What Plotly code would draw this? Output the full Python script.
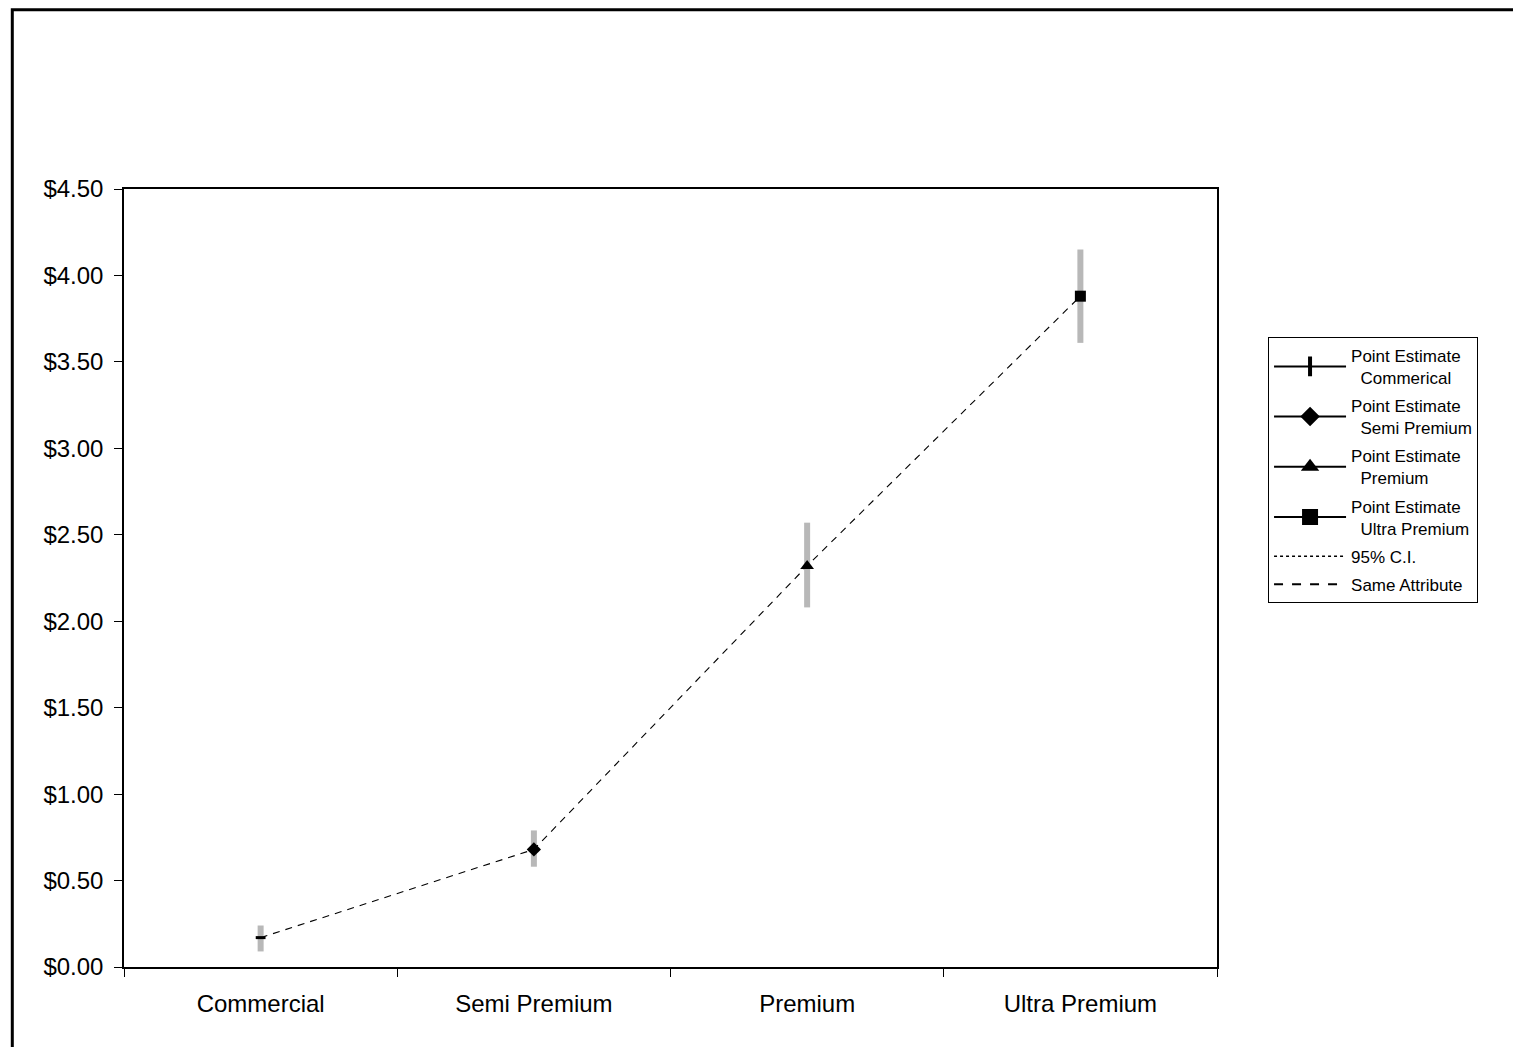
import plotly.graph_objects as go

categories = ["Commercial", "Semi Premium", "Premium", "Ultra Premium"]
estimate = [0.17, 0.68, 2.32, 3.88]
ci_low = [0.09, 0.58, 2.08, 3.61]
ci_high = [0.24, 0.79, 2.57, 4.15]

legend_names = [
    "Point Estimate<br>\u00a0\u00a0Commerical",
    "Point Estimate<br>\u00a0\u00a0Semi Premium",
    "Point Estimate<br>\u00a0\u00a0Premium",
    "Point Estimate<br>\u00a0\u00a0Ultra Premium",
]
plot_symbols = ["line-ew", "diamond", "triangle-up", "square"]
plot_sizes = [7, 11, 12, 11]
legend_symbols = ["line-ns", "diamond", "triangle-up", "square"]
legend_sizes = [14, 15, 16, 16]

FONT = "Liberation Sans, Arial, sans-serif"

fig = go.Figure()

# dashed line joining the point estimates
fig.add_trace(go.Scatter(
    x=categories, y=estimate, mode="lines",
    line=dict(color="black", width=1.1, dash="7px,6px"),
    showlegend=False, hoverinfo="skip",
))

# point estimates with 95% C.I. bars
for i, cat in enumerate(categories):
    fig.add_trace(go.Scatter(
        x=[cat], y=[estimate[i]], mode="markers",
        marker=dict(symbol=plot_symbols[i], size=plot_sizes[i], color="black",
                    line=dict(color="black", width=3 if i == 0 else 0)),
        error_y=dict(type="data", symmetric=False,
                     array=[ci_high[i] - estimate[i]],
                     arrayminus=[estimate[i] - ci_low[i]],
                     color="#b8b8b8", thickness=6, width=0),
        showlegend=False,
    ))

# legend entries
for i in range(4):
    fig.add_trace(go.Scatter(
        x=[None], y=[None], mode="lines+markers", name=legend_names[i],
        legendgroup="g%d" % i,
        line=dict(color="black", width=2),
        marker=dict(symbol=legend_symbols[i], size=legend_sizes[i], color="black",
                    line=dict(color="black", width=4 if i == 0 else 0)),
    ))
fig.add_trace(go.Scatter(
    x=[None], y=[None], mode="lines", name="95% C.I.", legendgroup="g4",
    line=dict(color="black", width=1.5, dash="dot"),
))
fig.add_trace(go.Scatter(
    x=[None], y=[None], mode="lines", name="Same Attribute", legendgroup="g5",
    line=dict(color="black", width=2, dash="dash"),
))

fig.update_layout(
    width=1521, height=1047,
    margin=dict(l=116, r=312, t=181, b=88),
    paper_bgcolor="white", plot_bgcolor="white",
    font=dict(family=FONT, size=24, color="black"),
    xaxis=dict(
        type="category", categoryarray=categories, categoryorder="array",
        range=[-0.5, 3.5], tickson="boundaries",
        ticks="outside", ticklen=8, tickcolor="black", tickwidth=1,
        showline=True, linecolor="black", linewidth=1.5, mirror=True,
        showgrid=False, zeroline=False, ticklabelstandoff=14,
        tickfont=dict(size=24),
    ),
    yaxis=dict(
        range=[0, 4.5], dtick=0.5, tick0=0, tickprefix="$", tickformat=".2f",
        ticks="outside", ticklen=8, tickcolor="black", tickwidth=1,
        showline=True, linecolor="black", linewidth=1.5, mirror=True,
        showgrid=False, zeroline=False, ticklabelstandoff=6,
        tickfont=dict(size=24),
    ),
    legend=dict(
        x=1.0467, y=0.81, xanchor="left", yanchor="top",
        bgcolor="white", bordercolor="black", borderwidth=1,
        font=dict(family=FONT, size=17, color="black"),
        itemwidth=72, tracegroupgap=3, traceorder="grouped",
    ),
    shapes=[dict(
        type="rect", xref="paper", yref="paper",
        x0=-0.1022, x1=1.35, y0=-0.3, y1=1.2305,
        line=dict(color="black", width=3), fillcolor="rgba(0,0,0,0)",
        layer="below",
    )],
)

fig.write_html("out.html")
